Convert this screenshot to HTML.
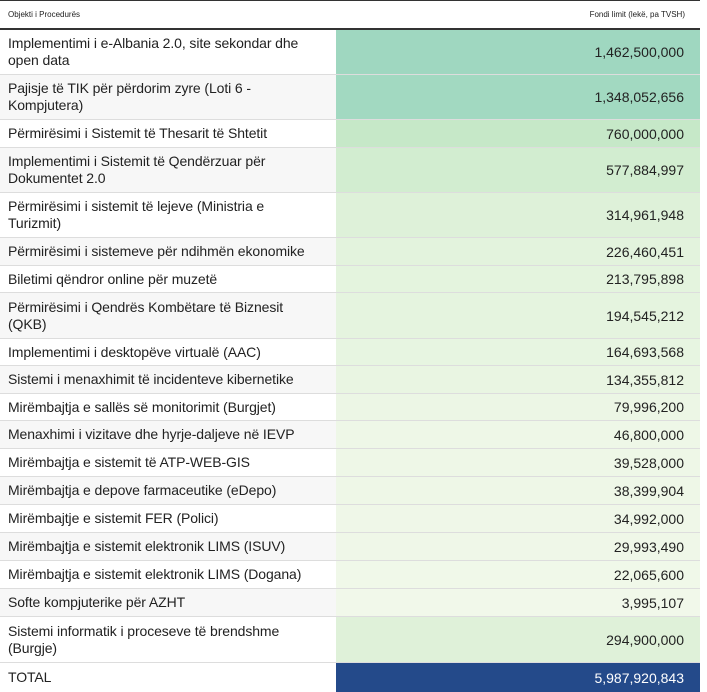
<!DOCTYPE html><html><head><style>
body{margin:0;width:707px;height:692px;background:#fff;font-family:"Liberation Sans",sans-serif;color:#222;position:relative;overflow:hidden}
.top{position:absolute;left:0;top:0;width:700px;height:1px;background:#333}
.h{position:absolute;top:0;height:28px;font-size:8px;line-height:30px;color:#222}
.hb{position:absolute;left:0;top:28px;width:700px;height:2px;background:#333}
.r{position:absolute;left:0;width:700px;border-bottom:1px solid #ddd;box-sizing:border-box}
.l{position:absolute;left:0;top:0;bottom:0;width:336px;padding-left:8px;box-sizing:border-box;display:flex;align-items:center;font-size:14px;line-height:17px;white-space:nowrap;letter-spacing:-0.1px}
.v{position:absolute;left:336px;right:0;top:0;bottom:0;display:flex;align-items:center;justify-content:flex-end;padding-right:16px;font-size:14px}
</style></head><body>
<div class="top"></div>
<div class="h" style="left:8px">Objekti i Procedurës</div>
<div class="h" style="right:22px">Fondi limit (lekë, pa TVSH)</div>
<div class="hb"></div>
<div id="t"></div>
<script>
var d=[["Implementimi i e-Albania 2.0, site sekondar dhe<br>open data","1,462,500,000",30,45,"#9fd7c0"],
["Pajisje të TIK për përdorim zyre (Loti 6 -<br>Kompjutera)","1,348,052,656",75,45,"#a2d9c1"],
["Përmirësimi i Sistemit të Thesarit të Shtetit","760,000,000",120,28,"#c6e8c8"],
["Implementimi i Sistemit të Qendërzuar për<br>Dokumentet 2.0","577,884,997",148,45,"#d2edd0"],
["Përmirësimi i sistemit të lejeve (Ministria e<br>Turizmit)","314,961,948",193,45,"#def1d9"],
["Përmirësimi i sistemeve për ndihmën ekonomike","226,460,451",238,28,"#e3f3dd"],
["Biletimi qëndror online për muzetë","213,795,898",266,27,"#e4f4de"],
["Përmirësimi i Qendrës Kombëtare të Biznesit<br>(QKB)","194,545,212",293,46,"#e5f4df"],
["Implementimi i desktopëve virtualë (AAC)","164,693,568",339,27,"#e7f5e1"],
["Sistemi i menaxhimit të incidenteve kibernetike","134,355,812",366,28,"#e9f5e2"],
["Mirëmbajtja e sallës së monitorimit (Burgjet)","79,996,200",394,27,"#ecf6e5"],
["Menaxhimi i vizitave dhe hyrje-daljeve në IEVP","46,800,000",421,28,"#eef7e7"],
["Mirëmbajtja e sistemit të ATP-WEB-GIS","39,528,000",449,28,"#eef7e7"],
["Mirëmbajtja e depove farmaceutike (eDepo)","38,399,904",477,28,"#eef7e7"],
["Mirëmbajtje e sistemit FER (Polici)","34,992,000",505,28,"#eff7e8"],
["Mirëmbajtja e sistemit elektronik LIMS (ISUV)","29,993,490",533,28,"#eff7e8"],
["Mirëmbajtja e sistemit elektronik LIMS (Dogana)","22,065,600",561,28,"#f0f8e9"],
["Softe kompjuterike për AZHT","3,995,107",589,28,"#f1f8ea"],
["Sistemi informatik i proceseve të brendshme<br>(Burgje)","294,900,000",617,46,"#dff1d9"]];
var h="";d.forEach(function(r,i){h+='<div class="r" style="top:'+r[2]+'px;height:'+r[3]+'px;background:'+(i%2?'#f7f7f7':'#fff')+'"><div class="l"><span>'+r[0]+'</span></div><div class="v" style="background:'+r[4]+'">'+r[1]+'</div></div>';});
h+='<div class="r" style="top:663px;height:29px;border:none"><div class="l">TOTAL</div><div class="v" style="background:#244a8a;color:#fff">5,987,920,843</div></div>';
document.getElementById("t").innerHTML=h;
</script>
</body></html>
